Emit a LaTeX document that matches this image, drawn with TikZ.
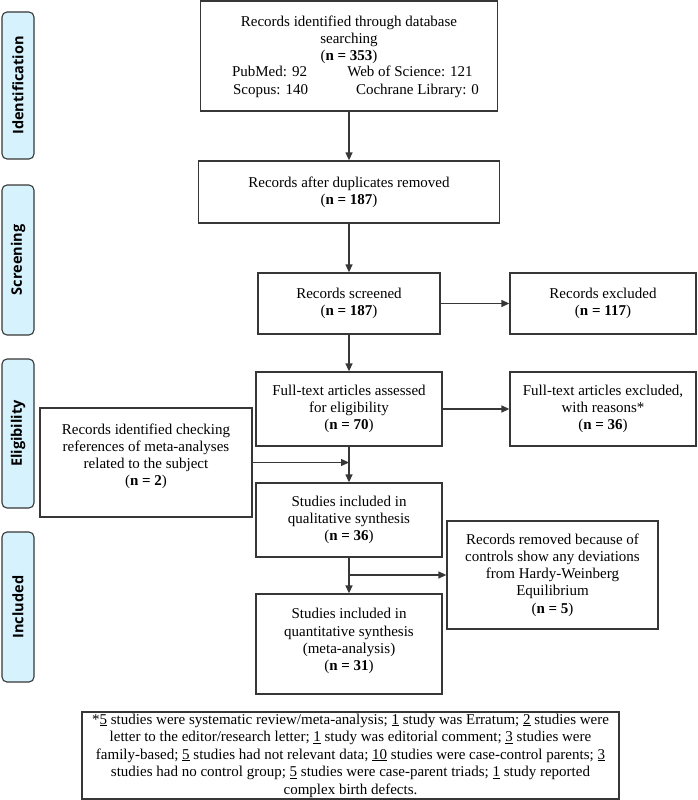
\documentclass[tikz,border=0pt]{standalone}
\usepackage{fontspec}
\setmainfont{Liberation Serif}
\newfontfamily\sidefont{Open Sans}
\usetikzlibrary{arrows.meta}
\definecolor{stagefill}{RGB}{214,242,252}
\definecolor{linegray}{RGB}{55,55,55}
\begin{document}
\begin{tikzpicture}[x=1pt,y=-1pt,
  box/.style={draw=linegray, line width=1.3pt, inner sep=0pt, align=center,
    font=\fontsize{15}{17.2}\selectfont},
  txt/.style={inner sep=0pt, align=center, font=\fontsize{15}{17.2}\selectfont},
  stage/.style={draw=linegray, line width=1.1pt, fill=stagefill, rounded corners=5pt,
    rotate=90, inner sep=0pt, minimum height=32pt,
    font=\sidefont\bfseries\fontsize{14.5}{16}\selectfont},
  arr/.style={draw=linegray, line width=1.3pt, -{Triangle[length=8pt,width=7pt]}}
]
\useasboundingbox (0,0) rectangle (697,800);

% stage labels
\node[stage, minimum width=147pt] (s1) at (18,85.5) {Identification};
\node[stage, minimum width=150pt] (s2) at (18,260) {Screening};
\node[stage, minimum width=149pt] (s3) at (18,433.5) {Eligibility};
\node[stage, minimum width=150pt] (s4) at (18,607) {Included};

% identification box
\node[box, minimum width=297pt, minimum height=110pt] (b1) at (349,56) {};
\node[txt, anchor=base] (b1a) at (349,27) {Records identified through database};
\node[txt, anchor=base] (b1b) at (349,44) {searching};
\node[txt, anchor=base] (b1c) at (349,60.5) {(\textbf{n = 353})};
\node[txt, anchor=base] (b1d) at (269.5,77) {PubMed: 92};
\node[txt, anchor=base] (b1e) at (410,77) {Web of Science: 121};
\node[txt, anchor=base] (b1f) at (270.5,94) {Scopus: 140};
\node[txt, anchor=base] (b1g) at (417.5,94) {Cochrane Library: 0};

\node[box, minimum width=301pt, minimum height=62pt] (b2) at (349,192)
  {Records after duplicates removed\\(\textbf{n = 187})};
\node[box, minimum width=182pt, minimum height=61pt] (b3) at (349,303.5)
  {Records screened\\(\textbf{n = 187})};
\node[box, minimum width=186pt, minimum height=61pt] (b4) at (603,303.5)
  {Records excluded\\(\textbf{n = 117})};
\node[box, minimum width=186pt, minimum height=74pt] (b5) at (349,409)
  {Full-text articles assessed\\for eligibility\\(\textbf{n = 70})};
\node[box, minimum width=186pt, minimum height=74pt] (b6) at (603,409)
  {Full-text articles excluded,\\with reasons*\\(\textbf{n = 36})};
\node[box, minimum width=212pt, minimum height=109pt] (b7) at (146,462.5) {};
\node[txt] (b7t) at (146,456.5)
  {Records identified checking\\references of meta-analyses\\related to the subject\\(\textbf{n = 2})};
\node[box, minimum width=186pt, minimum height=74pt] (b8) at (349,520)
  {Studies included in\\qualitative synthesis\\(\textbf{n = 36})};
\node[box, minimum width=211pt, minimum height=108pt] (b9) at (552.5,575)
  {Records removed because of\\controls show any deviations\\from Hardy-Weinberg\\Equilibrium\\(\textbf{n = 5})};
\node[box, minimum width=186pt, minimum height=100pt] (b10) at (349,644) {};
\node[txt] (b10t) at (349,641)
  {Studies included in\\quantitative synthesis\\(meta-analysis)\\(\textbf{n = 31})};

\node[box, minimum width=537pt, minimum height=87pt,
  font=\fontsize{15}{17.5}\selectfont] (b11) at (350.5,755.5)
  {*\underline{5} studies were systematic review/meta-analysis; \underline{1} study was Erratum; \underline{2} studies were\\
   letter to the editor/research letter; \underline{1} study was editorial comment; \underline{3} studies were\\
   family-based; \underline{5} studies had not relevant data; \underline{10} studies were case-control parents; \underline{3}\\
   studies had no control group; \underline{5} studies were case-parent triads; \underline{1} study reported\\
   complex birth defects.};

% connectors
\draw[arr] (b1.south) -- (b2.north);
\draw[arr] (b2.south) -- (b3.north);
\draw[arr] (b3.east) -- (b4.west);
\draw[arr] (b3.south) -- (b5.north);
\draw[arr] (b5.east) -- (b6.west);
\draw[arr] (b5.south) -- (b8.north);
\draw[arr] (b7.east) -- (b7.east -| b5.south);
\draw[arr] (b8.south) -- (b10.north);
\draw[arr] (b8.south |- b9.west) -- (b9.west);
\end{tikzpicture}
\end{document}
